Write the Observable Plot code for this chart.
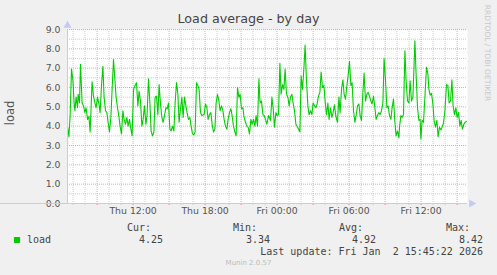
<!DOCTYPE html>
<html><head><meta charset="utf-8">
<script src="https://cdn.jsdelivr.net/npm/d3@7"></script>
<script src="https://cdn.jsdelivr.net/npm/@observablehq/plot@0.6"></script>
<style>
body{margin:0;background:#f0f0f0;}
#wrap{position:relative;width:497px;height:275px;overflow:hidden;background:#f0f0f0;font-family:"DejaVu Sans",sans-serif;}
.abs{position:absolute;white-space:pre;}
.mono{font-family:"DejaVu Sans Mono",monospace;font-size:10px;line-height:12px;color:#444;}
</style></head><body>
<div id="wrap"><div id="chart" class="abs" style="left:0;top:0"></div></div>
<script>
// ---- data ----
const startTime = "2026-01-01T06:32:00";
const endMinutes = 2000;
const minutes = [0,7,13,20,27,33,37,43,50,53,60,65,73,80,87,93,100,107,113,123,130,137,143,150,157,163,170,177,183,190,197,203,210,217,223,230,237,243,250,257,263,270,277,283,290,297,303,310,317,323,
330,338,345,352,358,365,372,378,385,392,398,405,412,418,425,432,438,445,452,458,465,472,478,485,492,498,505,512,518,525,532,538,545,552,558,565,572,578,585,592,598,605,612,618,625,632,638,645,652,658,665,
672,683,690,697,703,710,717,723,730,737,743,750,757,763,770,777,783,790,797,803,810,817,823,830,837,843,850,857,863,870,877,883,890,897,903,910,917,923,930,937,943,950,957,963,970,977,983,990,
997,1005,1015,1022,1028,1035,1042,1048,1055,1062,1068,1075,1082,1088,1095,1102,1108,1115,1122,1128,1135,1142,1148,1155,1162,1168,1175,1182,1188,1195,1202,1208,1215,1222,1228,1235,1242,1248,1255,1262,1268,1275,1282,1288,1295,1302,1308,1315,1322,1328,
1335,1342,1350,1357,1363,1370,1377,1383,1390,1397,1403,1410,1417,1423,1430,1437,1443,1450,1457,1463,1470,1477,1483,1490,1497,1503,1510,1517,1523,1530,1537,1543,1550,1557,1563,1570,1577,1583,1590,1597,1603,1610,1617,1623,1630,1637,1643,1650,1657,
1660,1667,1673,1680,1687,1693,1700,1707,1713,1720,1727,1733,1737,1743,1750,1757,1763,1767,1773,1780,1787,1795,1802,1807,1813,1820,1827,1833,1840,1847,1853,1860,1867,1873,1880,1887,
1895,1902,1908,1915,1922,1928,1935,1942,1948,1955,1962,1968,1975,1982,1988,1995];
const load = [4.0,3.45,4.5,6.95,6.4,5.2,4.8,5.5,4.95,5.65,5.2,7.2,5.2,5.05,4.7,4.95,4.35,4.5,3.7,6.3,5.55,5.2,4.95,5.5,5.15,4.7,6.1,7.1,5.5,4.8,4.7,4.2,3.7,4.5,5.9,7.45,6.4,5.5,4.95,4.5,4.0,3.6,4.8,4.35,4.1,4.45,4.0,4.35,3.85,3.5,
5.9,6.1,6.25,5.05,5.8,5.3,4.0,4.35,5.05,4.1,4.6,6.45,5.2,3.75,3.5,3.7,5.5,5.55,4.6,6.15,5.15,4.45,4.2,4.55,4.95,4.9,5.2,3.85,3.75,4.0,3.75,5.2,6.25,5.65,4.2,4.9,5.5,4.45,5.5,5.05,4.7,4.35,4.45,4.0,3.6,3.55,3.7,6.25,6.1,5.9,4.7,
4.55,4.6,5.15,4.95,4.35,4.6,4.7,4.1,3.7,3.85,5.2,5.65,5.3,4.8,5.05,4.8,4.35,4.0,3.85,4.35,4.7,4.9,4.55,4.0,3.7,3.5,6.0,5.5,5.65,4.9,4.95,4.45,4.2,4.0,3.95,3.6,4.35,4.1,4.35,4.0,4.55,4.0,6.45,5.2,5.3,4.6,4.55,4.35,
4.1,4.55,4.3,5.5,4.95,3.95,4.7,4.55,4.6,7.25,5.65,6.15,5.9,6.95,5.65,5.5,5.05,5.5,5.65,5.2,4.8,4.1,4.0,3.85,3.7,6.6,5.9,7.0,8.2,6.35,5.05,4.6,4.8,4.6,5.2,5.05,4.95,5.15,5.55,5.75,6.8,6.0,6.1,5.3,4.6,5.2,4.35,4.95,4.45,4.7,
5.1,4.5,4.2,5.5,4.7,5.9,6.4,5.65,5.4,6.1,6.6,7.35,6.1,6.25,4.8,4.2,4.55,5.05,5.15,4.55,4.3,5.75,6.75,5.3,5.65,5.75,5.55,5.3,5.15,5.55,4.95,4.35,4.55,4.7,4.6,4.8,5.2,7.5,6.4,4.95,5.05,4.55,4.35,4.95,5.4,4.2,3.5,3.75,3.4,
3.95,4.55,4.45,4.6,7.9,6.35,5.3,5.2,6.35,5.3,5.5,7.2,8.42,6.7,4.95,4.3,4.35,3.34,4.3,4.2,5.5,7.05,6.7,5.9,5.6,5.7,5.15,4.3,3.95,4.3,3.45,3.95,3.8,3.95,4.15,4.8,
6.15,6.1,5.2,5.3,6.4,5.05,4.6,4.95,4.45,4.7,4.0,4.3,3.85,4.1,4.2,4.25];
const labelTicks = ["2026-01-01T12:00:00","2026-01-01T18:00:00","2026-01-02T00:00:00","2026-01-02T06:00:00","2026-01-02T12:00:00"];
const yTicks = [0,1,2,3,4,5,6,7,8,9];
const title = "Load average - by day";
const unitLabel = "load";
const seriesName = "load";
const statLabels = ["Cur:","Min:","Avg:","Max:"];
const statValues = ["4.25","3.34","4.92","8.42"];
const lastUpdate = "Last update: Fri Jan  2 15:45:22 2026";
const credit = "RRDTOOL / TOBI OETIKER";
const version = "Munin 2.0.57";

// ---- chart ----
const t0 = new Date(startTime);
const t1 = new Date(t0.getTime() + endMinutes * 60000);
const data = minutes.map((m, i) => ({t: new Date(t0.getTime() + m * 60000), v: load[i]}));
const hours = d3.timeHour.range(t0, t1);
const minorX = hours.filter(d => d.getHours() % 3 !== 0);
const majorX = hours.filter(d => d.getHours() % 3 === 0);
const yMinor = d3.range(0.5, 9, 1);
const yMajor = yTicks.filter(d => d > 0);
const fmt = d3.timeFormat("%a %H:%M");
const axisCol = "#c8c8f4";
const majorCol = "#f0a0a0";
const minorCol = "#cccccc";

const chart = Plot.plot({
  width: 497, height: 275,
  marginTop: 29, marginBottom: 72, marginLeft: 67, marginRight: 30,
  style: {background: "transparent", fontFamily: "DejaVu Sans", fontSize: "9.33px", color: "#555", overflow: "visible"},
  x: {type: "time", domain: [t0, t1], axis: null, label: null},
  y: {domain: [0, 9], axis: null, label: null},
  marks: [
    Plot.frame({fill: "white", stroke: null}),
    Plot.ruleY(yMinor, {stroke: minorCol, strokeDasharray: "1,1"}),
    Plot.ruleX(minorX, {stroke: minorCol, strokeDasharray: "1,1"}),
    Plot.ruleY(yMajor, {stroke: majorCol, strokeDasharray: "1,1"}),
    Plot.ruleX(majorX, {stroke: majorCol, strokeDasharray: "1,1"}),
    Plot.axisY(yTicks, {tickFormat: d => d.toFixed(1), tickSize: 0, tickPadding: 7, fill: "#555", label: null}),
    Plot.axisX(labelTicks.map(s => new Date(s)), {tickFormat: fmt, tickSize: 0, tickPadding: 4, fill: "#555", label: null}),
    Plot.axisX(minorX, {tickSize: 2, tickFormat: () => "", stroke: minorCol, label: null}),
    Plot.axisX(majorX, {tickSize: 2, tickFormat: () => "", stroke: "#f08080", label: null}),
    Plot.line(data, {x: "t", y: "v", stroke: "#00cc00", strokeWidth: 1.1}),
    Plot.ruleY([0], {stroke: axisCol, x2: t1}),
    Plot.ruleX([t0], {stroke: axisCol}),
    Plot.dot([0], {frameAnchor: "top-left", symbol: "triangle", r: 3, fill: axisCol, stroke: null, dy: -4}),
    Plot.dot([0], {frameAnchor: "bottom-right", symbol: "triangle", r: 3, fill: axisCol, stroke: null, rotate: 90, dx: 4})
  ]
});
document.getElementById("chart").appendChild(chart);

// ---- texts ----
const wrap = document.getElementById("wrap");
function add(text, css, cls) {
  const d = document.createElement("div");
  d.className = "abs" + (cls ? " " + cls : "");
  d.textContent = text;
  d.style.cssText += css;
  wrap.appendChild(d);
  return d;
}
add(title, "left:0;width:497px;text-align:center;top:12px;font-size:12.7px;line-height:13px;color:#444;");
add(unitLabel, "left:10px;top:113px;font-size:11.5px;line-height:12px;color:#555;transform:translate(-50%,-50%) rotate(-90deg);");
add(credit, "left:487px;top:53px;font-size:7.5px;line-height:8px;color:#c8c8c8;transform:translate(-50%,-50%) rotate(90deg);");
// legend
const sq = add("", "left:14px;top:237px;width:6px;height:6px;background:#00cc00;");
add(seriesName, "left:27px;top:234px;", "mono");
const labelRight = [151, 257, 363, 470];
const valueRight = [163, 270, 376, 483];
statLabels.forEach((s, i) => add(s, `right:${497 - labelRight[i]}px;top:222px;`, "mono"));
statValues.forEach((s, i) => add(s, `right:${497 - valueRight[i]}px;top:234px;`, "mono"));
add(lastUpdate, "right:14px;top:246px;", "mono");
add(version, "left:0;width:497px;text-align:center;top:258px;font-size:7px;line-height:10px;color:#bbbbbb;");
</script>
</body></html>
